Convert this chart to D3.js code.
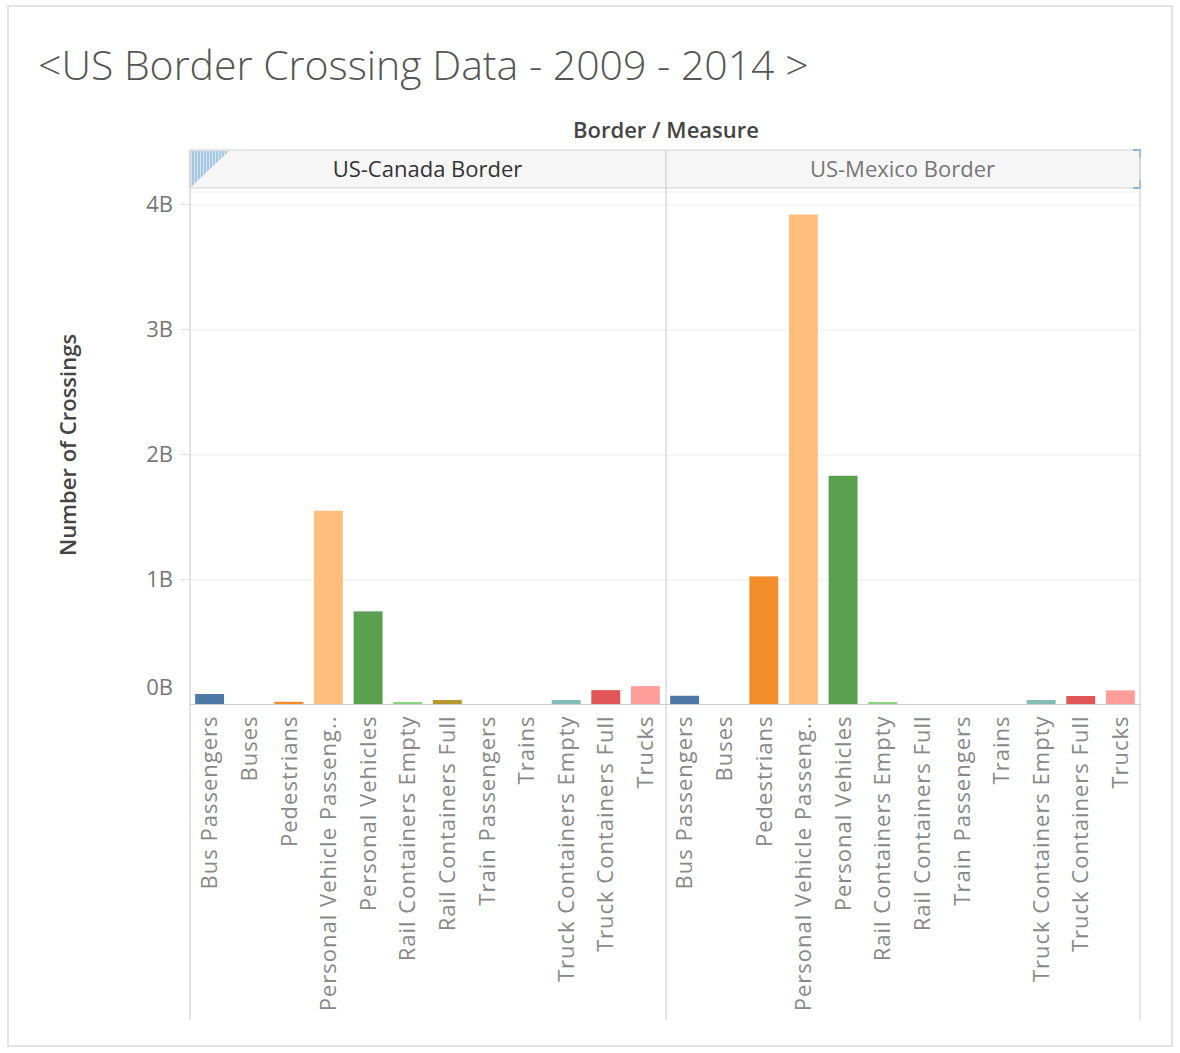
<!DOCTYPE html>
<html>
<head>
<meta charset="utf-8">
<script src="https://cdn.jsdelivr.net/npm/d3@7"></script>
<style>
  body { margin: 0; background: #fff; }
  svg text { font-family: "Open Sans", "Noto Sans", sans-serif; }
</style>
</head>
<body>
<div id="chart"></div>
<script>
// data (billions of crossings, 2009 - 2014)
var measures = ["Bus Passengers", "Buses", "Pedestrians", "Personal Vehicle Passengers",
                "Personal Vehicles", "Rail Containers Empty", "Rail Containers Full",
                "Train Passengers", "Trains", "Truck Containers Empty", "Truck Containers Full", "Trucks"];
var borders = ["US-Canada Border", "US-Mexico Border"];
var canadaValues = [0.084, 0.003, 0.022, 1.55, 0.745, 0.02, 0.036, 0.002, 0.001, 0.036, 0.115, 0.147];
var mexicoValues = [0.07, 0.002, 1.025, 3.92, 1.83, 0.02, 0.001, 0.001, 0.001, 0.036, 0.068, 0.113];
var yTicks = [0, 1, 2, 3, 4];
var colors = ["#4e79a7", "#a0cbe8", "#f28e2b", "#ffbe7d", "#59a14f", "#8cd17d",
              "#b6992d", "#f1ce63", "#499894", "#86bcb6", "#e15759", "#ff9d9a"];

var width = 1180, height = 1053;
var plotLeft = 190, plotRight = 1140, plotTop = 150, headerH = 38, plotBottom = 1020;
var svg = d3.select("#chart").append("svg").attr("width", width).attr("height", height);

// outer frame
svg.append("rect").attr("x", 8).attr("y", 6).attr("width", 1164).attr("height", 1040)
   .attr("fill", "#fff").attr("stroke", "#d9d9d9").attr("stroke-width", 1.5);

// title
svg.append("text").attr("x", 38).attr("y", 80).attr("font-size", 41).attr("font-weight", 300)
   .attr("fill", "#555").text("<US Border Crossing Data - 2009 - 2014 >");

svg.append("text").attr("x", 666).attr("y", 138).attr("text-anchor", "middle")
   .attr("font-size", 22).attr("font-weight", 600).attr("fill", "#444").text("Border / Measure");

var panelX = d3.scaleBand().domain(borders).range([plotLeft, plotRight]);
var scaleY = d3.scaleLinear().domain([0, 4]).range([704.5, 204.5]);

// header band
svg.append("rect").attr("x", plotLeft).attr("y", plotTop).attr("width", plotRight - plotLeft).attr("height", headerH)
   .attr("fill", "#f6f6f6").attr("stroke", "#d4d4d4");
svg.selectAll(".hdr").data(borders).enter().append("text")
   .attr("x", function(d){ return panelX(d) + panelX.bandwidth()/2; })
   .attr("y", plotTop + 27).attr("text-anchor", "middle").attr("font-size", 22)
   .attr("fill", function(d, i){ return i == 0 ? "#333" : "#777"; })
   .text(function(d){ return d; });

// selection marker top-left
var pat = svg.append("defs").append("pattern").attr("id", "hatch").attr("width", 3).attr("height", 3)
   .attr("patternUnits", "userSpaceOnUse");
pat.append("rect").attr("width", 3).attr("height", 3).attr("fill", "#d3e4f3");
pat.append("line").attr("x1", 1).attr("y1", 0).attr("x2", 1).attr("y2", 3).attr("stroke", "#7eaad2").attr("stroke-width", 1);
svg.append("path").attr("d", "M191,151 L229,151 L191,187 Z").attr("fill", "url(#hatch)");
// corner brackets on the right
svg.append("path").attr("d", "M1133,150 L1140,150 L1140,158 M1140,180 L1140,188 L1133,188")
   .attr("fill", "none").attr("stroke", "#8fb6d8").attr("stroke-width", 2);

// gridlines
svg.append("g").attr("transform", "translate(" + plotLeft + ",0)")
   .call(d3.axisLeft(scaleY).tickValues(yTicks.slice(1)).tickSize(-(plotRight - plotLeft)).tickFormat(""))
   .call(function(g){ g.select(".domain").remove(); g.selectAll("line").attr("stroke", "#ececec"); });
svg.append("line").attr("x1", plotLeft).attr("x2", plotRight).attr("y1", 192).attr("y2", 192).attr("stroke", "#ececec");

// y axis labels
var yAxis = svg.append("g").attr("transform", "translate(" + (plotLeft - 14) + ",0)")
   .call(d3.axisLeft(scaleY).tickValues(yTicks).tickSize(0).tickFormat(function(d){ return d + "B"; }));
yAxis.select(".domain").remove();
yAxis.selectAll("text").attr("font-size", 22).attr("fill", "#777")
   .style("font-family", "'Open Sans', sans-serif")
   .attr("dy", function(d){ return d == 0 ? "-0.45em" : "0.32em"; });
svg.selectAll(".ytk").data(yTicks.slice(1)).enter().append("line")
   .attr("x1", plotLeft - 10).attr("x2", plotLeft).attr("y1", function(d){ return scaleY(d); })
   .attr("y2", function(d){ return scaleY(d); }).attr("stroke", "#e4e4e4");

svg.append("text").attr("transform", "translate(76,445) rotate(-90)").attr("text-anchor", "middle")
   .attr("font-size", 22).attr("font-weight", 600).attr("fill", "#444").text("Number of Crossings");

// panels
var allValues = [canadaValues, mexicoValues];
borders.forEach(function(b, p) {
  var x0 = panelX(b);
  var scaleX = d3.scaleBand().domain(measures).range([x0, x0 + panelX.bandwidth()]).paddingInner(0.27).paddingOuter(0.13);
  var rows = measures.map(function(m, i){ return {m: m, v: allValues[p][i], c: colors[i]}; });
  svg.selectAll(".bar" + p).data(rows).enter().append("rect")
     .attr("x", function(d){ return scaleX(d.m); })
     .attr("width", scaleX.bandwidth())
     .attr("y", function(d){ return scaleY(d.v); })
     .attr("height", function(d){ return scaleY(0) - scaleY(d.v); })
     .attr("fill", function(d){ return d.c; });

  var axisX = d3.axisBottom(scaleX).tickSize(0).tickFormat(function(d){
      return d.length > 24 ? d.slice(0, 24) + ".." : d; });
  var gx = svg.append("g").attr("transform", "translate(0," + scaleY(0) + ")").call(axisX);
  gx.select(".domain").remove();
  gx.selectAll("text").attr("font-size", 22).attr("fill", "#888")
     .style("font-family", "'Open Sans', sans-serif").style("letter-spacing", "1px")
     .attr("text-anchor", "end").attr("transform", "rotate(-90)")
     .attr("x", -11).attr("y", 0).attr("dy", "0.35em");
});

// baseline and frame lines
svg.append("line").attr("x1", plotLeft).attr("x2", plotRight).attr("y1", scaleY(0)).attr("y2", scaleY(0)).attr("stroke", "#cfcfcf");
[plotLeft, 666, plotRight].forEach(function(x){
  svg.append("line").attr("x1", x).attr("x2", x).attr("y1", plotTop).attr("y2", plotBottom).attr("stroke", "#c8c8c8");
});
</script>
</body>
</html>
